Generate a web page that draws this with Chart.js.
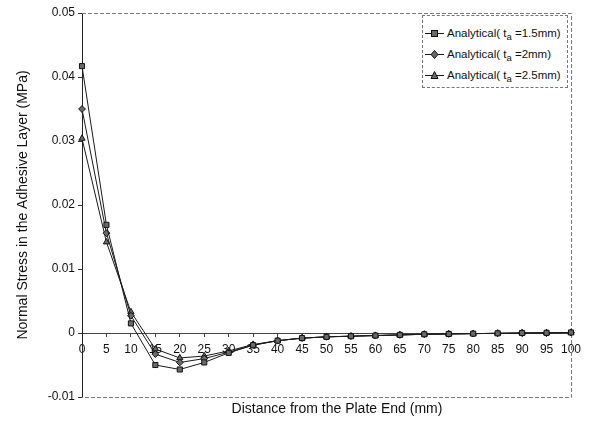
<!DOCTYPE html>
<html>
<head>
<meta charset="utf-8">
<script src="https://cdn.jsdelivr.net/npm/chart.js@4.4.1/dist/chart.umd.min.js"></script>
<style>
  html, body { margin: 0; padding: 0; background: #fff; }
  #wrap { position: relative; width: 591px; height: 426px; font-family: "Liberation Sans", Arial, sans-serif; }
  #chart { position: absolute; left: 0; top: 0; }
  #xtitle { position: absolute; left: 0; width: 674px; top: 400px; text-align: center; font-size: 14px; color: #111; }
  #legend { position: absolute; left: 422px; top: 15px; width: 146px; height: 73px; border: 1px dashed #777; background: #fff; box-sizing: border-box; font-size: 11.5px; color: #111; }
  .item { position: absolute; left: 2px; height: 14px; display: flex; align-items: center; white-space: nowrap; }
  .item svg { margin-right: 3px; }
  sub { font-size: 9.5px; vertical-align: -3px; line-height: 0; }
</style>
</head>
<body>
<div id="wrap">
  <canvas id="chart" width="591" height="426"></canvas>
  <div id="xtitle">Distance from the Plate End (mm)</div>
  <div id="legend"></div>
</div>
<script>
// Distance from the plate end (mm)
const distances = [0, 5, 10, 15, 20, 25, 30, 35, 40, 45, 50, 55, 60, 65, 70, 75, 80, 85, 90, 95, 100];

// Normal stress in the adhesive layer (MPa) for three adhesive thicknesses
const stressTa15 = [0.0417, 0.0169, 0.0015, -0.0050, -0.0057, -0.0046, -0.0031, -0.0019, -0.0012, -0.0008, -0.0006, -0.0005, -0.0004, -0.0003, -0.0002, -0.00015, -0.0001, -0.00005, 0, 0.00003, 0.00008];
const stressTa20 = [0.0350, 0.0156, 0.0027, -0.0033, -0.0046, -0.0040, -0.0030, -0.0019, -0.0012, -0.0008, -0.0006, -0.0005, -0.0004, -0.0003, -0.0002, -0.00015, -0.0001, -0.00005, 0, 0.00003, 0.00008];
const stressTa25 = [0.0304, 0.0142, 0.0033, -0.0025, -0.0039, -0.0036, -0.0028, -0.0018, -0.0012, -0.0008, -0.0006, -0.0005, -0.0004, -0.0003, -0.0002, -0.00015, -0.0001, -0.00005, 0, 0.00003, 0.00008];

// Legend captions (thickness value shown after the subscripted t_a)
const seriesThickness = ['1.5mm', '2mm', '2.5mm'];
const seriesStyles = ['rect', 'rectRot', 'triangle'];
const tickLabelsY = [0.05, 0.04, 0.03, 0.02, 0.01, 0, -0.01];

const pts = arr => distances.map((d, i) => ({ x: d, y: arr[i] }));

function ds(data, style) {
  return {
    data: pts(data),
    borderColor: '#1a1a1a',
    borderWidth: 1,
    pointStyle: style,
    pointRadius: style === 'rectRot' ? 3.4 : 3.6,
    pointBackgroundColor: '#6a6a6a',
    pointBorderColor: '#111',
    pointBorderWidth: 1,
    clip: false,
    tension: 0
  };
}

// Dashed frame around the plot area (top, right, bottom edges)
const framePlugin = {
  id: 'frame',
  beforeDatasetsDraw(chart) {
    const { ctx, chartArea: a } = chart;
    ctx.save();
    ctx.strokeStyle = '#7a7a7a';
    ctx.lineWidth = 1;
    ctx.setLineDash([4, 2]);
    ctx.beginPath();
    ctx.moveTo(a.left, a.top + 0.5);
    ctx.lineTo(a.right + 0.5, a.top + 0.5);
    ctx.lineTo(a.right + 0.5, a.bottom + 0.5);
    ctx.lineTo(a.left, a.bottom + 0.5);
    ctx.stroke();
    ctx.restore();
  }
};

new Chart(document.getElementById('chart'), {
  type: 'line',
  data: {
    datasets: [
      ds(stressTa15, seriesStyles[0]),
      ds(stressTa20, seriesStyles[1]),
      ds(stressTa25, seriesStyles[2])
    ]
  },
  options: {
    responsive: false,
    animation: false,
    layout: { padding: { top: 13, right: 20, bottom: 29, left: 0 } },
    plugins: { legend: { display: false }, tooltip: { enabled: false } },
    scales: {
      x: {
        type: 'linear',
        min: 0,
        max: 100,
        position: { y: 0 },
        ticks: {
          stepSize: 5,
          color: '#111',
          font: { family: '"Liberation Sans", Arial, sans-serif', size: 12 },
          padding: 6,
          maxRotation: 0,
          autoSkip: false
        },
        grid: { drawOnChartArea: false, drawTicks: true, tickLength: 3, color: '#444' },
        border: { color: '#444', dash: [5, 3], width: 1 }
      },
      y: {
        min: -0.01,
        max: 0.05,
        afterFit(scale) { scale.width = 82; },
        afterBuildTicks(scale) { scale.ticks = tickLabelsY.map(v => ({ value: v })); },
        ticks: {
          color: '#111',
          font: { family: '"Liberation Sans", Arial, sans-serif', size: 12 },
          padding: 3,
          callback: v => String(Number(v.toFixed(2)))
        },
        grid: { drawOnChartArea: false, drawTicks: true, tickLength: 4, color: '#333' },
        border: { color: '#222', width: 1 },
        title: {
          display: true,
          text: 'Normal Stress in the Adhesive Layer (MPa)',
          color: '#111',
          font: { family: '"Liberation Sans", Arial, sans-serif', size: 14 },
          padding: { top: 15, bottom: 0 }
        }
      }
    }
  },
  plugins: [framePlugin]
});

// HTML legend with subscripted symbol
const legend = document.getElementById('legend');
const markerSvg = style => {
  let m = '';
  if (style === 'rect') m = '<rect x="6.5" y="2.5" width="6" height="6" fill="#6a6a6a" stroke="#111"/>';
  else if (style === 'rectRot') m = '<polygon points="9.5,1.5 13,5.5 9.5,9.5 6,5.5" fill="#6a6a6a" stroke="#111"/>';
  else m = '<polygon points="9.5,1.5 13,8.5 6,8.5" fill="#6a6a6a" stroke="#111"/>';
  return '<svg width="19" height="11"><line x1="0" y1="5.5" x2="19" y2="5.5" stroke="#1a1a1a" stroke-width="1"/>' + m + '</svg>';
};
const rowTops = [10, 31, 52];
seriesThickness.forEach((t, i) => {
  const row = document.createElement('div');
  row.className = 'item';
  row.style.top = rowTops[i] + 'px';
  row.innerHTML = markerSvg(seriesStyles[i]) + '<span>Analytical( t<sub>a</sub> =' + t + ')</span>';
  legend.appendChild(row);
});
</script>
</body>
</html>
